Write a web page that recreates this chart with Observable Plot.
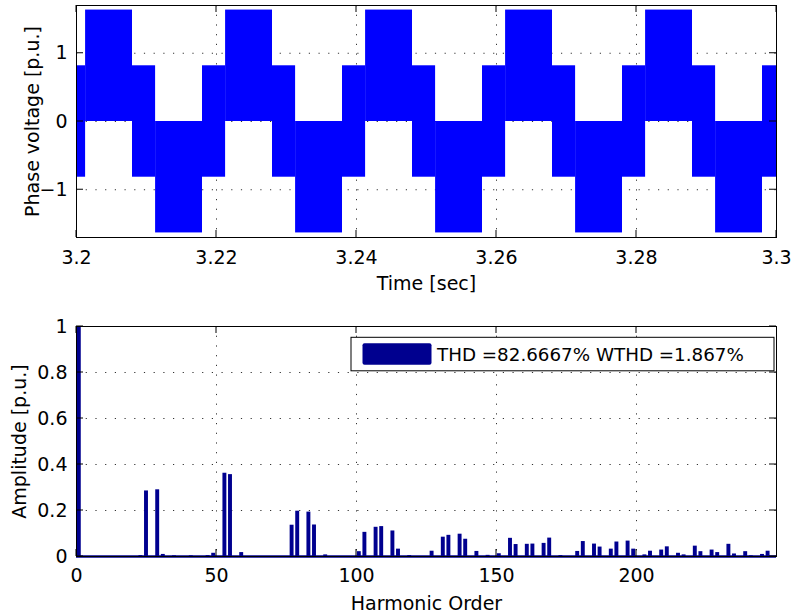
<!DOCTYPE html>
<html><head><meta charset="utf-8">
<script src="https://cdn.jsdelivr.net/npm/d3@7"></script>
<script src="https://cdn.jsdelivr.net/npm/@observablehq/plot@0.6"></script>
<style>
body{margin:0;background:#fff;}
#chart{width:792px;height:615px;position:relative;background:#fff;}
#chart svg{display:block;}
</style></head><body><div id="chart"></div>
<script>
// ---------- data: top panel (phase voltage) ----------
const timeTicks = [3.2, 3.22, 3.24, 3.26, 3.28, 3.3];
const timeTickLabels = ["3.2", "3.22", "3.24", "3.26", "3.28", "3.3"];
const voltTicks = [-1, 0, 1];
const voltTickLabels = ["\u22121", "0", "1"];
// switching band boundaries (s) and band kind between consecutive edges
const bandEdges = [3.2, 3.2013, 3.2080, 3.2113, 3.2180, 3.2213, 3.2280, 3.2313, 3.2380, 3.2413,
  3.2480, 3.2513, 3.2580, 3.2613, 3.2680, 3.2713, 3.2780, 3.2813, 3.2880, 3.2913, 3.2980, 3.3];
const bandKinds = ["mid", "pos", "mid", "neg", "mid", "pos", "mid", "neg", "mid", "pos", "mid",
  "neg", "mid", "pos", "mid", "neg", "mid", "pos", "mid", "neg", "mid"];
const bandLow = {mid: -0.8165, pos: 0, neg: -1.633};
const bandHigh = {mid: 0.8165, pos: 1.633, neg: 0};

// ---------- data: bottom panel (harmonic spectrum) ----------
const harmonicOrders = [1, 23, 25, 29, 31, 35, 41, 47, 49, 53, 55, 59, 77, 79, 83, 85, 89,
  101, 103, 107, 109, 113, 115, 119, 127, 131, 133, 137, 139, 143, 147, 151, 155, 157, 161, 163,
  167, 169, 173, 179, 181, 185, 187, 191, 193, 197, 199, 203, 205, 209, 211, 215, 217, 221, 223,
  227, 229, 233, 235, 239, 241, 245, 247];
const harmonicAmps = [1.0, 0.004, 0.285, 0.29, 0.009, 0.003, 0.003, 0.004, 0.014, 0.362, 0.356, 0.017, 0.136, 0.197, 0.193, 0.137, 0.007,
  0.021, 0.105, 0.127, 0.130, 0.111, 0.032, 0.004, 0.023, 0.084, 0.092, 0.097, 0.075, 0.022, 0.005, 0.012, 0.079, 0.052, 0.053, 0.054,
  0.057, 0.080, 0.004, 0.022, 0.065, 0.054, 0.041, 0.032, 0.063, 0.067, 0.032, 0.007, 0.023, 0.028, 0.042, 0.014, 0.007, 0.045, 0.021,
  0.028, 0.017, 0.053, 0.011, 0.021, 0.003, 0.009, 0.023];
const orderTicks = [0, 50, 100, 150, 200];
const orderTickLabels = ["0", "50", "100", "150", "200"];
const ampTicks = [0, 0.2, 0.4, 0.6, 0.8, 1];
const ampTickLabels = ["0", "0.2", "0.4", "0.6", "0.8", "1"];
const legendText = "THD =82.6667% WTHD =1.867%";

// ---------- helpers ----------
const FONT = "'DejaVu Sans', 'Liberation Sans', Arial, sans-serif";
const FS = 19;
const barColor = "#00008F";
const gridStyle = {stroke: "#000", strokeOpacity: 0.8, strokeWidth: 1, strokeDasharray: "1.2,8.5"};

function labelMap(ticks, labels) {
  const m = new Map(ticks.map((t, i) => [t, labels[i]]));
  return d => m.get(d);
}

function innerTicks(xt, yt, len = 7) {
  return (index, scales, values, dims) => {
    const {x, y} = scales;
    const t0 = dims.marginTop, b0 = dims.height - dims.marginBottom;
    const l0 = dims.marginLeft, r0 = dims.width - dims.marginRight;
    const g = d3.create("svg:g").attr("stroke", "#000").attr("stroke-width", 1).attr("fill", "none");
    for (const t of xt) {
      const px = x(t);
      g.append("line").attr("x1", px).attr("x2", px).attr("y1", b0).attr("y2", b0 - len);
      g.append("line").attr("x1", px).attr("x2", px).attr("y1", t0).attr("y2", t0 + len);
    }
    for (const t of yt) {
      const py = y(t);
      g.append("line").attr("x1", l0).attr("x2", l0 + len).attr("y1", py).attr("y2", py);
      g.append("line").attr("x1", r0).attr("x2", r0 - len).attr("y1", py).attr("y2", py);
    }
    return g.node();
  };
}

function legendMark(text) {
  return (index, scales, values, dims) => {
    const r0 = dims.width - dims.marginRight;
    const t0 = dims.marginTop;
    const w = 423, h = 33.5;
    const bx = r0 - 2 - w, by = t0 + 11.3;
    const g = d3.create("svg:g");
    g.append("rect").attr("x", bx).attr("y", by).attr("width", w).attr("height", h)
      .attr("fill", "#fff").attr("stroke", "#000").attr("stroke-width", 1);
    g.append("rect").attr("x", bx + 11.5).attr("y", by + 6).attr("width", 69).attr("height", 21.5)
      .attr("rx", 2).attr("fill", barColor);
    g.append("text").attr("x", bx + 86).attr("y", by + h / 2).attr("dy", "0.36em")
      .attr("text-anchor", "start")
      .attr("font-family", FONT).attr("font-size", 18.3).attr("fill", "#000").text(text);
    return g.node();
  };
}

// ---------- top panel ----------
const bands = bandKinds.map((k, i) => ({t1: bandEdges[i], t2: bandEdges[i + 1], lo: bandLow[k], hi: bandHigh[k]}));

const topPlot = Plot.plot({
  width: 792, height: 300,
  marginLeft: 76, marginRight: 16, marginTop: 5, marginBottom: 63,
  style: {fontFamily: FONT, fontSize: FS + "px", background: "#fff", color: "#000", overflow: "visible"},
  x: {domain: [3.2, 3.3]},
  y: {domain: [-1.7, 1.7]},
  marks: [
    Plot.gridX(timeTicks, gridStyle),
    Plot.gridY(voltTicks, gridStyle),
    Plot.rect(bands, {x1: "t1", x2: "t2", y1: "lo", y2: "hi", fill: "#0000FF"}),
    Plot.frame({stroke: "#000", strokeWidth: 1}),
    innerTicks(timeTicks, voltTicks),
    Plot.axisX(timeTicks, {tickSize: 0, tickPadding: 13, tickFormat: labelMap(timeTicks, timeTickLabels), label: null, fontSize: FS}),
    Plot.axisY(voltTicks, {tickSize: 0, tickPadding: 9, tickFormat: labelMap(voltTicks, voltTickLabels), label: null, fontSize: FS}),
    Plot.text(["Time [sec]"], {frameAnchor: "bottom", dy: 46, textAnchor: "middle", lineAnchor: "middle", text: d => d, fontSize: FS, fill: "#000"}),
    Plot.text(["Phase voltage [p.u.]"], {frameAnchor: "left", dx: -44, rotate: -90, textAnchor: "middle", lineAnchor: "middle", text: d => d, fontSize: FS, fill: "#000"})
  ]
});

// ---------- bottom panel ----------
const spectrum = harmonicOrders.map((h, i) => ({h, a: harmonicAmps[i]}));

const bottomPlot = Plot.plot({
  width: 792, height: 315,
  marginLeft: 76, marginRight: 16, marginTop: 26, marginBottom: 59,
  style: {fontFamily: FONT, fontSize: FS + "px", background: "#fff", color: "#000", overflow: "visible"},
  x: {domain: [0, 250]},
  y: {domain: [0, 1]},
  marks: [
    Plot.gridX(orderTicks, gridStyle),
    Plot.gridY(ampTicks, gridStyle),
    Plot.rect(spectrum, {x1: d => d.h - 0.7, x2: d => d.h + 0.7, y1: 0, y2: "a", fill: barColor}),
    Plot.ruleY([0], {stroke: barColor, strokeWidth: 2.5}),
    Plot.frame({stroke: "#000", strokeWidth: 1}),
    innerTicks(orderTicks, ampTicks),
    legendMark(legendText),
    Plot.axisX(orderTicks, {tickSize: 0, tickPadding: 12, tickFormat: labelMap(orderTicks, orderTickLabels), label: null, fontSize: FS}),
    Plot.axisY(ampTicks, {tickSize: 0, tickPadding: 9, tickFormat: labelMap(ampTicks, ampTickLabels), label: null, fontSize: FS}),
    Plot.text(["Harmonic Order"], {frameAnchor: "bottom", dy: 47, textAnchor: "middle", lineAnchor: "middle", text: d => d, fontSize: FS, fill: "#000"}),
    Plot.text(["Amplitude [p.u.]"], {frameAnchor: "left", dx: -57, rotate: -90, textAnchor: "middle", lineAnchor: "middle", text: d => d, fontSize: FS, fill: "#000"})
  ]
});

const chart = document.getElementById("chart");
chart.appendChild(topPlot);
chart.appendChild(bottomPlot);
</script>
</body></html>
